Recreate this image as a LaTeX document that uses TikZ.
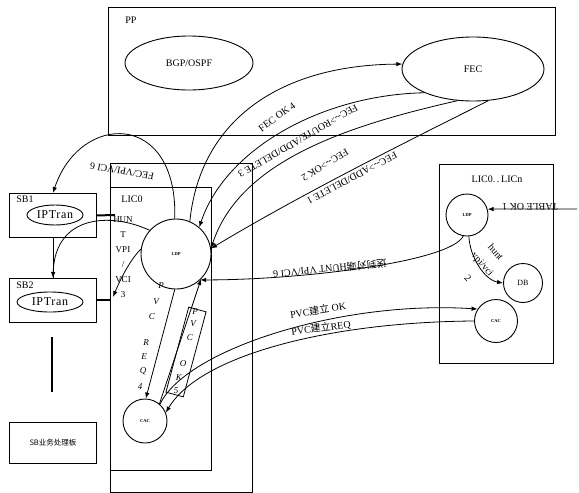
\documentclass[tikz,border=0pt]{standalone}
\usepackage{fontspec}
\setmainfont{Liberation Serif}
\newfontfamily\cjk{Noto Sans CJK SC}
\usetikzlibrary{arrows.meta,shapes.geometric}
\begin{document}
\begin{tikzpicture}[x=1pt,y=-1pt,
  box/.style={draw,line width=0.9pt,rectangle,anchor=north west,inner sep=0pt},
  oval/.style={draw,line width=0.9pt,ellipse,inner sep=0pt,font=\fontsize{10}{11}\selectfont},
  circ/.style={draw,line width=0.9pt,circle,inner sep=0pt},
  boxlab/.style={font=\fontsize{10}{11}\selectfont,inner sep=0pt},
  lab/.style={font=\fontsize{10}{11}\selectfont,inner sep=0.5pt},
  tinylab/.style={font=\fontsize{4.5}{5}\selectfont\bfseries},
  conn/.style={line width=0.8pt,-{Latex[length=6pt,width=4.5pt]}},
  plainline/.style={line width=0.8pt},
  heavyline/.style={line width=2pt},
  letterlab/.style={font=\fontsize{9}{10}\selectfont\itshape,inner sep=0pt}
]
\useasboundingbox (0,0) rectangle (579,493);

% boxes
\node[box,minimum width=447pt,minimum height=128pt] (pp) at (108,7) {};
\node[boxlab] (pplab) at (131,20) {PP};
\node[box,minimum width=142pt,minimum height=329pt] (licouter) at (110,163) {};
\node[box,minimum width=101pt,minimum height=283pt] (lic0) at (110,187) {};
\node[boxlab] (lic0lab) at (132,199) {LIC0};
\node[box,minimum width=114pt,minimum height=199pt] (licn) at (439,164) {};
\node[boxlab] (licnlab) at (497,179) {LIC0.\,.\,LICn};
\node[box,minimum width=87pt,minimum height=44pt] (sb1) at (9,193) {};
\node[boxlab] (sb1lab) at (25,199) {SB1};
\node[box,minimum width=87pt,minimum height=44pt] (sb2) at (9,278) {};
\node[boxlab] (sb2lab) at (25,285) {SB2};
\node[box,minimum width=87pt,minimum height=41pt] (sbp) at (9,422) {};
\node[font={\cjk\fontsize{7.5}{8}\selectfont}] (sbplab) at (sbp.center) {SB业务处理板};

% ellipses
\node[oval,minimum width=128pt,minimum height=54pt] (bgp) at (189,63) {BGP/OSPF};
\node[oval,minimum width=142pt,minimum height=64pt] (fec) at (473,69) {FEC};
\node[oval,minimum width=56pt,minimum height=20pt,font={\fontsize{12}{13}\selectfont\addfontfeatures{LetterSpace=6}}] (ip1) at (55,215) {IPTran};
\node[oval,minimum width=66pt,minimum height=20pt,font={\fontsize{12}{13}\selectfont\addfontfeatures{LetterSpace=6}}] (ip2) at (50,302) {IPTran};

% circles
\node[circ,minimum size=70pt,tinylab] (ldp0) at (176,254) {LDP};
\node[circ,minimum size=44pt,tinylab] (cac0) at (145,421) {CAC};
\node[circ,minimum size=42pt,tinylab] (ldpn) at (467,215) {LDP};
\node[circ,minimum size=39pt,font=\fontsize{8}{9}\selectfont] (db) at (523,283) {DB};
\node[circ,minimum size=43pt,tinylab] (cacn) at (496,321) {CAC};

% TABLE OK 1
\coordinate (tblsrc) at (577,209);
\draw[conn] (tblsrc) -- (ldpn.16);
\node[lab,rotate=180] (tbl) at (530,207) {TABLE OK 1};

% hunt vpi/vci 2
\draw[conn] (ldpn.-85) .. controls (470,258) and (485,280) .. (db.west);
\node[lab,rotate=-49] (hunta) at (496,252) {hunt};
\node[lab,rotate=-49] (huntb) at (482,265) {vpi/vci};
\node[lab,rotate=-49] (huntc) at (468,278) {2};

% send to peer
\draw[conn] (ldpn.-100) .. controls (450,262) and (300,280) .. (ldp0.-47);
\node[lab,rotate=186] (peerlab) at (330,269) {{\cjk 送到对端}HUNT VPI/VCI 6};

% FEC curves
\draw[conn] (ldp0.67) .. controls (200,120) and (280,65) .. (fec.176);
\draw[conn] (fec.206) .. controls (320,95) and (225,150) .. (ldp0.49);
\draw[conn] (fec.244) .. controls (350,125) and (240,160) .. (ldp0.9);
\draw[conn] (fec.296) .. controls (400,145) and (300,195) .. (ldp0.9);
\node[lab,rotate=36] (fecok) at (277,117) {FEC OK 4};
\node[lab,rotate=210] (fecroute) at (298,141) {FEC-{}-{}>ROUTE/ADD/DELETE 3};
\node[lab,rotate=211] (fecokk) at (325,165) {FEC-{}-{}>OK 2};
\node[lab,rotate=208] (fecadd) at (352,178) {FEC-{}-{}>ADD/DELETE 1};

% FEC/VPI/VCI 6 to SB1
\draw[conn] (ldp0.92) .. controls (178,110) and (80,112) .. (sb1.north);
\node[lab,rotate=170] (fecvpi) at (122,171) {FEC/VPI/VCI 6};

% to SB2
\draw[conn] (ldp0.138) .. controls (110,212) and (55,215) .. (sb2.north);
\draw[plainline] (sb1.south) -- (sb2.north);
\coordinate (sb1in) at (115,215);
\draw[heavyline] (sb1.east) -- (sb1in);
\draw[heavyline] (sb2.east) -- (sb2.east -| lic0.west);
\coordinate (hunt3) at (113,297);
\draw[conn] (ldp0.172) .. controls (128,262) and (118,285) .. (hunt3);
\node[font=\fontsize{9}{15}\selectfont,align=center,inner sep=0pt] (huntlab3) at (123,257) {HUN\\T\\VPI\\/\\VCI\\3};

% vertical line below SB2
\coordinate (vl1) at (52,337);
\coordinate (vl2) at (52,392);
\draw[line width=1.2pt] (vl1) -- (vl2);

% PVC REQ 4
\draw[conn] (ldp0.-92) -- (cac0.88);
\foreach \ch/\px/\py [count=\i] in {P/161/286, V/156/302, C/152/317, R/146/343, E/144/357, Q/143/371, 4/140/387}
  \node[letterlab] (req\i) at (\px,\py) {\ch};

% PVC OK 5
\draw[conn] (cac0.50) -- (ldp0.-45);
\node[draw,line width=0.8pt,rotate=-15,minimum width=18pt,minimum height=88pt,inner sep=0pt] (okbox) at (186,352) {};
\foreach \ch/\px/\py [count=\i] in {P/195/312, V/193/324, C/190/338, O/183/364, K/179/378, 5/176/391}
  \node[letterlab] (ok\i) at (\px,\py) {\ch};

% PVC establish OK / REQ
\draw[conn] (cac0.48) .. controls (185,350) and (340,300) .. (cacn.147);
\node[lab,rotate=9] (okl) at (318,310) {PVC{\cjk 建立} OK};
\draw[conn] (cacn.180) .. controls (330,322) and (200,355) .. (cac0.22);
\node[lab,rotate=7] (reql) at (321,328) {PVC{\cjk 建立}REQ};
\end{tikzpicture}
\end{document}
